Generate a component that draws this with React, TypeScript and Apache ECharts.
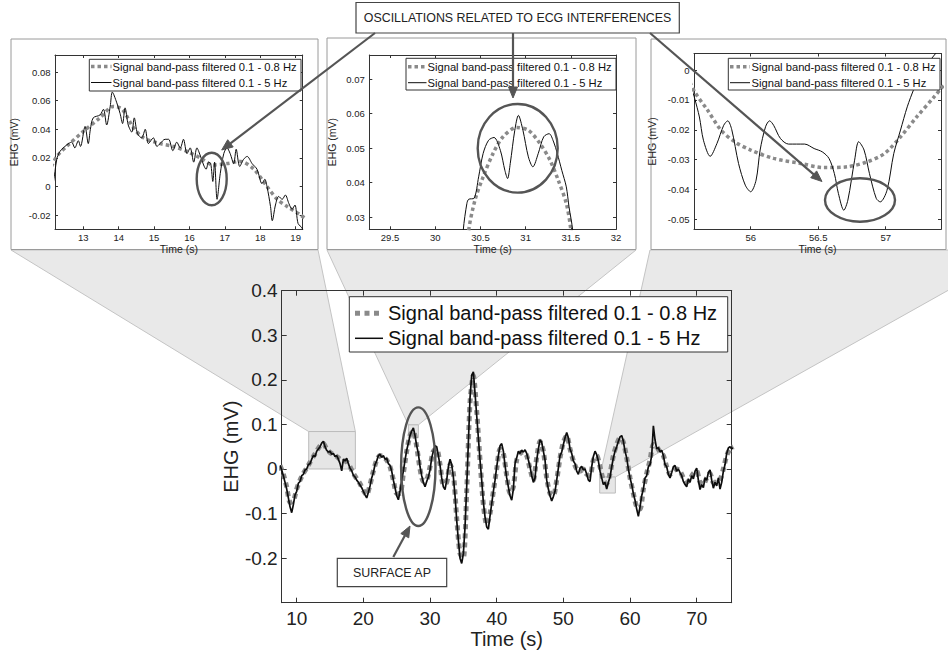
import { useEffect, useRef } from 'react';
import * as echarts from 'echarts';

const FONT = '"Liberation Sans", Arial, Helvetica, sans-serif';

// ---------- main chart (sampled signal) ----------
const MAIN_T0 = 7.5;
const SLOW_STEP = 0.5; // 0.1 - 0.8 Hz trace sampling (s)
const FAST_STEP = 0.25; // 0.1 - 5 Hz trace sampling (s)

// Signal band-pass filtered 0.1 - 0.8 Hz (from t = 7.5 s, every 0.5 s)
const mainSlow = [
  0.008, // 7.5
  -0.012, -0.04, // 8
  -0.075, -0.072, // 9
  -0.045, -0.025, // 10
  -0.01, 0.002, // 11
  0.015, 0.028, // 12
  0.04, 0.052, // 13
  0.057, 0.045, // 14
  0.037, 0.032, // 15
  0.028, 0.022, // 16
  0.019, 0.016, // 17
  0.005, -0.01, // 18
  -0.022, -0.033, // 19
  -0.048, -0.058, // 20
  -0.035, -0.005, // 21
  0.02, 0.03, // 22
  0.027, 0.02, // 23
  0.005, -0.025, // 24
  -0.055, -0.055, // 25
  -0.01, 0.04, // 26
  0.075, 0.085, // 27
  0.05, 0.0, // 28
  -0.028, -0.025, // 29
  0.005, 0.04, // 30
  0.045, 0.01, // 31
  -0.035, -0.03, // 32
  0.01, -0.01, // 33
  -0.11, -0.19, // 34
  -0.2, -0.05, // 35
  0.15, 0.21, // 36
  0.13, 0.02, // 37
  -0.08, -0.125, // 38
  -0.1, -0.05, // 39
  0.0, 0.045, // 40
  0.035, -0.015, // 41
  -0.055, -0.04, // 42
  0.02, 0.035, // 43
  0.038, 0.03, // 44
  0.0, -0.025, // 45
  0.025, 0.062, // 46
  0.04, -0.02, // 47
  -0.055, -0.06, // 48
  -0.025, 0.025, // 49
  0.06, 0.075, // 50
  0.045, 0.018, // 51
  0.0, -0.005, // 52
  0.0, -0.012, // 53
  -0.015, 0.02, // 54
  0.03, 0.005, // 55
  -0.025, -0.033, // 56
  -0.01, 0.03, // 57
  0.055, 0.07, // 58
  0.06, 0.025, // 59
  -0.02, -0.055, // 60
  -0.085, -0.09, // 61
  -0.045, -0.01, // 62
  0.02, 0.055, // 63
  0.05, 0.038, // 64
  0.03, 0.005, // 65
  -0.012, -0.005, // 66
  0.0, -0.005, // 67
  -0.02, -0.03, // 68
  -0.022, -0.01, // 69
  -0.005, -0.03, // 70
  -0.035, -0.02, // 71
  -0.01, -0.03, // 72
  -0.03, -0.025, // 73
  0.0, 0.03, // 74
  0.045, 0.05, // 75
];

// Signal band-pass filtered 0.1 - 5 Hz (from t = 7.5 s, every 0.25 s)
const mainFast = [
  0.008, -0.002, // 7.5
  -0.015, -0.03, -0.045, -0.065, // 8
  -0.085, -0.098, -0.08, -0.058, // 9
  -0.05, -0.032, -0.028, -0.015, // 10
  -0.012, -0.002, 0.0, 0.01, // 11
  0.012, 0.022, 0.03, 0.028, // 12
  0.04, 0.045, 0.05, 0.058, // 13
  0.062, 0.05, 0.042, 0.038, // 14
  0.04, 0.033, 0.035, 0.028, // 15
  0.03, 0.022, 0.012, -0.004, // 16
  0.022, 0.018, 0.024, 0.012, // 17
  0.002, -0.004, -0.014, -0.018, // 18
  -0.025, -0.03, -0.036, -0.042, // 19
  -0.05, -0.058, -0.065, -0.052, // 20
  -0.038, -0.02, -0.008, 0.01, // 21
  0.018, 0.03, 0.033, 0.026, // 22
  0.03, 0.022, 0.024, 0.012, // 23
  0.008, -0.005, -0.025, -0.042, // 24
  -0.06, -0.069, -0.05, -0.025, // 25
  -0.005, 0.02, 0.042, 0.058, // 26
  0.075, 0.085, 0.092, 0.075, // 27
  0.052, 0.035, 0.005, -0.015, // 28
  -0.03, -0.04, -0.028, -0.018, // 29
  -0.002, 0.025, 0.04, 0.052, // 30
  0.05, 0.03, 0.008, -0.02, // 31
  -0.04, -0.046, -0.025, 0.005, // 32
  0.022, 0.01, -0.018, -0.06, // 33
  -0.115, -0.16, -0.2, -0.212, // 34
  -0.19, -0.13, -0.04, 0.06, // 35
  0.16, 0.21, 0.218, 0.17, // 36
  0.12, 0.07, 0.02, -0.025, // 37
  -0.075, -0.108, -0.13, -0.135, // 38
  -0.105, -0.078, -0.05, -0.025, // 39
  0.005, 0.03, 0.052, 0.057, // 40
  0.04, 0.008, -0.02, -0.04, // 41
  -0.06, -0.07, -0.045, 0.012, // 42
  0.025, 0.04, 0.035, 0.042, // 43
  0.038, 0.043, 0.035, 0.02, // 44
  0.005, -0.015, -0.03, -0.02, // 45
  0.02, 0.045, 0.065, 0.06, // 46
  0.04, 0.02, -0.025, -0.045, // 47
  -0.06, -0.072, -0.062, -0.05, // 48
  -0.025, 0.002, 0.03, 0.038, // 49
  0.055, 0.07, 0.082, 0.07, // 50
  0.045, 0.035, 0.018, 0.012, // 51
  -0.005, -0.012, 0.002, 0.006, // 52
  -0.002, 0.0, -0.012, -0.025, // 53
  -0.028, 0.005, 0.028, 0.04, // 54
  0.032, 0.018, -0.005, -0.02, // 55
  -0.035, -0.03, -0.045, -0.03, // 56
  -0.018, 0.005, 0.025, 0.04, // 57
  0.05, 0.062, 0.072, 0.075, // 58
  0.062, 0.04, 0.025, 0.0, // 59
  -0.02, -0.035, -0.055, -0.07, // 60
  -0.09, -0.106, -0.085, -0.06, // 61
  -0.045, -0.02, -0.015, 0.005, // 62
  0.01, 0.03, 0.097, 0.065, // 63
  0.045, 0.048, 0.038, 0.042, // 64
  0.03, 0.01, 0.005, -0.012, // 65
  -0.02, -0.008, 0.005, 0.008, // 66
  -0.005, 0.0, -0.008, -0.015, // 67
  -0.028, -0.035, -0.04, -0.022, // 68
  -0.03, -0.015, -0.022, -0.005, // 69
  0.002, -0.025, -0.046, -0.035, // 70
  -0.042, -0.02, -0.025, -0.008, // 71
  -0.002, -0.025, -0.043, -0.03, // 72
  -0.038, -0.02, -0.045, -0.03, // 73
  -0.005, 0.01, 0.035, 0.047, // 74
  0.05, 0.045, 0.048, // 75
];

const mainXTicks = [10, 20, 30, 40, 50, 60, 70];
const mainYTicks = [-0.2, -0.1, 0, 0.1, 0.2, 0.3, 0.4];

// zoomed regions marked on the main chart: [t0, t1, v0, v1]
const zoomRegions = [
  [11.8, 18.8, 0.0, 0.084],
  [26.75, 28.25, 0.07, 0.099],
  [55.45, 57.8, -0.054, -0.018],
];

// ---------- inset 1 ----------
const inset1Slow: number[][] = [
  [12.1, 0.014], [12.25, 0.021], [12.53, 0.028], [13.0, 0.0385], [13.47, 0.048], [13.85, 0.056],
  [14.1, 0.054], [14.42, 0.041], [14.7, 0.034], [15.17, 0.03], [15.55, 0.028], [15.93, 0.0245],
  [16.3, 0.02], [16.68, 0.015], [17.06, 0.016], [17.44, 0.0175], [17.82, 0.012], [18.19, 0.0],
  [18.48, -0.009], [18.76, -0.014], [19.14, -0.02], [19.3, -0.023],
];
const inset1Fast: number[][] = [
  [12.15, 0.002], [12.2, 0.0105], [12.25, 0.019], [12.34, 0.0245], [12.53, 0.029], [12.67, 0.031],
  [12.76, 0.027], [12.86, 0.032], [12.92, 0.028], [13.05, 0.042], [13.14, 0.03], [13.2, 0.04],
  [13.28, 0.048], [13.47, 0.05], [13.57, 0.054], [13.66, 0.043], [13.76, 0.056], [13.82, 0.066],
  [13.94, 0.059], [14.04, 0.051], [14.11, 0.044], [14.18, 0.055], [14.27, 0.043], [14.37, 0.038],
  [14.44, 0.048], [14.53, 0.037], [14.65, 0.034], [14.75, 0.04], [14.84, 0.03], [14.98, 0.034],
  [15.08, 0.028], [15.17, 0.03], [15.31, 0.033], [15.41, 0.033], [15.53, 0.025], [15.64, 0.031],
  [15.74, 0.027], [15.83, 0.033], [15.93, 0.023], [16.02, 0.027], [16.12, 0.017], [16.21, 0.027],
  [16.3, 0.022], [16.4, 0.015], [16.47, 0.012], [16.54, 0.017], [16.6, 0.016], [16.66, 0.0035],
  [16.71, 0.017], [16.78, -0.009], [16.87, 0.009], [16.97, 0.023], [17.06, 0.027], [17.15, 0.023],
  [17.25, 0.016], [17.32, 0.026], [17.42, 0.014], [17.53, 0.019], [17.63, 0.021], [17.77, 0.016],
  [17.91, 0.012], [18.05, 0.002], [18.13, 0.005], [18.19, 0.0], [18.29, -0.014], [18.34, -0.024],
  [18.43, -0.013], [18.52, -0.007], [18.62, -0.009], [18.71, -0.006], [18.81, -0.012], [18.9, -0.016],
  [18.98, -0.013], [19.07, -0.026], [19.18, -0.029], [19.25, -0.035],
];
const inset1XTicks = [13, 14, 15, 16, 17, 18, 19];
const inset1YTicks = [-0.02, 0, 0.02, 0.04, 0.06, 0.08];

// ---------- inset 2 ----------
const inset2Slow: number[][] = [
  [30.33, 0.015], [30.37, 0.0263], [30.44, 0.035], [30.53, 0.0417], [30.64, 0.0485], [30.75, 0.0533],
  [30.9, 0.056], [31.03, 0.0552], [31.16, 0.0513], [31.27, 0.0465], [31.36, 0.0408], [31.45, 0.034],
  [31.5, 0.0263], [31.53, 0.015],
];
const inset2Fast: number[][] = [
  [30.29, 0.015], [30.31, 0.0263], [30.35, 0.034], [30.37, 0.0352], [30.43, 0.0355], [30.48, 0.0417],
  [30.53, 0.0485], [30.59, 0.0523], [30.65, 0.0531], [30.72, 0.0494], [30.77, 0.0436], [30.8, 0.0412],
  [30.83, 0.0456], [30.88, 0.0552], [30.92, 0.0595], [30.97, 0.0552], [31.03, 0.0475], [31.08, 0.0446],
  [31.14, 0.0485], [31.2, 0.0533], [31.26, 0.0542], [31.31, 0.0518], [31.35, 0.0485], [31.4, 0.0436],
  [31.45, 0.0388], [31.48, 0.033], [31.52, 0.0263], [31.54, 0.015],
];
const inset2XTicks = [29.5, 30, 30.5, 31, 31.5, 32];
const inset2YTicks = [0.03, 0.04, 0.05, 0.06, 0.07];

// ---------- inset 3 ----------
const inset3Slow: number[][] = [
  [55.55, -0.004], [55.585, -0.0073], [55.68, -0.0134], [55.78, -0.0201], [55.88, -0.024], [56.0, -0.0268],
  [56.17, -0.0296], [56.37, -0.0313], [56.54, -0.0327], [56.72, -0.0324], [56.86, -0.0308], [56.99, -0.028],
  [57.11, -0.0224], [57.23, -0.0157], [57.36, -0.0089], [57.45, -0.004],
];
const inset3Fast: number[][] = [
  [55.55, -0.004], [55.585, -0.0095], [55.62, -0.0157], [55.65, -0.0235], [55.7, -0.0289], [55.75, -0.0246],
  [55.8, -0.0185], [55.83, -0.017], [55.86, -0.02], [55.91, -0.0313], [55.96, -0.0386], [56.0, -0.0408],
  [56.04, -0.0369], [56.07, -0.0268], [56.11, -0.019], [56.14, -0.017], [56.17, -0.0185], [56.22, -0.0229],
  [56.28, -0.0248], [56.4, -0.0248], [56.47, -0.0263], [56.53, -0.0274], [56.58, -0.0296], [56.62, -0.0347],
  [56.65, -0.0414], [56.69, -0.047], [56.72, -0.0436], [56.77, -0.0302], [56.8, -0.024], [56.84, -0.0268],
  [56.88, -0.0347], [56.93, -0.043], [56.96, -0.0442], [57.01, -0.0403], [57.06, -0.028], [57.11, -0.0201],
  [57.16, -0.0123], [57.21, -0.0062], [57.26, -0.0011], [57.31, 0.0022], [57.37, 0.0056], [57.42, 0.009],
];
const inset3XTicks = [56, 56.5, 57];
const inset3YTicks = [-0.05, -0.04, -0.03, -0.02, -0.01, 0];

const LEGEND_SLOW = 'Signal band-pass filtered 0.1 - 0.8 Hz';
const LEGEND_FAST = 'Signal band-pass filtered 0.1 - 5 Hz';

const GRAY = '#8a8a8a';
const BLACK = '#0d0d0d';
const AXIS = '#333';
const TXT = '#222';

const fmt = (v: number) => String(parseFloat(Number(v).toFixed(4)));

type AxCfg = {
  g: number; xMin: number; xMax: number; xTicks: number[]; yMin: number; yMax: number; yTicks: number[];
  tickFont: number; nameFont: number; tickLen: number; xMargin: number; yMargin: number; xGap: number; yGap: number;
};

function axesFor(c: AxCfg) {
  const line = { show: true, onZero: false, lineStyle: { color: AXIS, width: 1 } };
  const lbl = (vals: number[], margin: number) => ({
    show: true, customValues: vals, formatter: (v: number) => fmt(v), color: TXT,
    fontSize: c.tickFont, fontFamily: FONT, margin, hideOverlap: false,
  });
  const tick = (vals: number[]) => ({ show: true, inside: true, length: c.tickLen, customValues: vals, lineStyle: { color: AXIS, width: 1 } });
  const xs = [
    {
      type: 'value', gridIndex: c.g, position: 'bottom', min: c.xMin, max: c.xMax,
      axisLine: line, axisTick: tick(c.xTicks), axisLabel: lbl(c.xTicks, c.xMargin), splitLine: { show: false },
      name: 'Time (s)', nameLocation: 'middle', nameGap: c.xGap,
      nameTextStyle: { fontSize: c.nameFont, fontFamily: FONT, color: TXT },
    },
    {
      type: 'value', gridIndex: c.g, position: 'top', min: c.xMin, max: c.xMax,
      axisLine: line, axisTick: tick(c.xTicks), axisLabel: { show: false }, splitLine: { show: false },
    },
  ];
  const ys = [
    {
      type: 'value', gridIndex: c.g, position: 'left', min: c.yMin, max: c.yMax,
      axisLine: line, axisTick: tick(c.yTicks), axisLabel: lbl(c.yTicks, c.yMargin), splitLine: { show: false },
      name: 'EHG (mV)', nameLocation: 'middle', nameGap: c.yGap, nameRotate: 90,
      nameTextStyle: { fontSize: c.nameFont, fontFamily: FONT, color: TXT },
    },
    {
      type: 'value', gridIndex: c.g, position: 'right', min: c.yMin, max: c.yMax,
      axisLine: line, axisTick: tick(c.yTicks), axisLabel: { show: false }, splitLine: { show: false },
    },
  ];
  return { xs, ys };
}

function lineSeries(g: number, data: number[][], slow: boolean, big: boolean, smooth: number | boolean) {
  return {
    type: 'line', xAxisIndex: 2 * g, yAxisIndex: 2 * g, data, showSymbol: false, symbol: 'none',
    smooth, clip: true, z: slow ? 2 : 3, silent: true,
    lineStyle: slow
      ? { color: GRAY, width: big ? 5 : 3.5, type: big ? [5, 4] : [3.5, 3], cap: 'butt' }
      : { color: BLACK, width: big ? 1.7 : 1 },
  };
}

function buildOption() {
  const cfgs: AxCfg[] = [
    { g: 0, xMin: 12.2, xMax: 19.2, xTicks: inset1XTicks, yMin: -0.03, yMax: 0.092, yTicks: inset1YTicks,
      tickFont: 9.5, nameFont: 10.5, tickLen: 3, xMargin: 3, yMargin: 4.5, xGap: 12, yGap: 36 },
    { g: 1, xMin: 29.27, xMax: 32, xTicks: inset2XTicks, yMin: 0.0265, yMax: 0.077, yTicks: inset2YTicks,
      tickFont: 9.5, nameFont: 10.5, tickLen: 3, xMargin: 3, yMargin: 4.5, xGap: 12, yGap: 32 },
    { g: 2, xMin: 55.58, xMax: 57.41, xTicks: inset3XTicks, yMin: -0.0534, yMax: 0.0056, yTicks: inset3YTicks,
      tickFont: 9.5, nameFont: 10.5, tickLen: 3, xMargin: 3, yMargin: 4.5, xGap: 12, yGap: 37 },
    { g: 3, xMin: 7.75, xMax: 75.25, xTicks: mainXTicks, yMin: -0.3, yMax: 0.4, yTicks: mainYTicks,
      tickFont: 19, nameFont: 20, tickLen: 5, xMargin: 6, yMargin: 4, xGap: 26, yGap: 33 },
  ];
  const xAxis: any[] = [];
  const yAxis: any[] = [];
  cfgs.forEach((c) => {
    const a = axesFor(c);
    xAxis.push(...a.xs);
    yAxis.push(...a.ys);
  });
  const mainSlowData = mainSlow.map((v, i) => [MAIN_T0 + i * SLOW_STEP, v]);
  const mainFastData = mainFast.map((v, i) => [MAIN_T0 + i * FAST_STEP, v]);
  return {
    animation: false,
    backgroundColor: '#ffffff',
    textStyle: { fontFamily: FONT },
    grid: [
      { left: 55, top: 55, width: 247.7, height: 174.3 },
      { left: 369.3, top: 55, width: 246.7, height: 174.3 },
      { left: 694, top: 53.5, width: 247, height: 175.8 },
      { left: 281.7, top: 290.7, width: 450, height: 312 },
    ],
    xAxis,
    yAxis,
    series: [
      lineSeries(0, inset1Slow, true, false, 0.3),
      lineSeries(0, inset1Fast, false, false, 0.3),
      lineSeries(1, inset2Slow, true, false, 0.3),
      lineSeries(1, inset2Fast, false, false, 0.3),
      lineSeries(2, inset3Slow, true, false, 0.3),
      lineSeries(2, inset3Fast, false, false, 0.3),
      {
        type: 'line', xAxisIndex: 6, yAxisIndex: 6, data: [], z: 1, silent: true,
        markArea: {
          silent: true,
          itemStyle: { color: '#e6e6e6', borderColor: '#bcbcbc', borderWidth: 1 },
          data: zoomRegions.map((r) => [{ coord: [r[0], r[3]] }, { coord: [r[1], r[2]] }]),
        },
      },
      lineSeries(3, mainSlowData, true, true, 0.25),
      lineSeries(3, mainFastData, false, true, false),
    ],
  };
}

function arrow(x1: number, y1: number, x2: number, y2: number, z: number) {
  const dx = x2 - x1, dy = y2 - y1;
  const len = Math.sqrt(dx * dx + dy * dy);
  const ux = dx / len, uy = dy / len;
  const hl = 11, hw = 4.5;
  const bx = x2 - ux * hl, by = y2 - uy * hl;
  const nx = -uy, ny = ux;
  return [
    { type: 'line', z, silent: true, shape: { x1, y1, x2: bx, y2: by }, style: { stroke: '#555', lineWidth: 2.2 } },
    {
      type: 'polygon', z, silent: true,
      shape: { points: [[x2, y2], [bx + nx * hw, by + ny * hw], [bx - nx * hw, by - ny * hw]] },
      style: { fill: '#555', stroke: '#555', lineWidth: 1 },
    },
  ];
}

function legendBox(x: number, y: number, w: number, h: number, r1: number, r2: number, s0: number, s1: number,
  tx: number, font: number, big: boolean) {
  const z = 20;
  return [
    { type: 'rect', z, silent: true, shape: { x, y, width: w, height: h }, style: { fill: '#fff', stroke: '#333', lineWidth: 1 } },
    {
      type: 'line', z, silent: true, shape: { x1: s0, y1: r1, x2: s1, y2: r1 },
      style: { stroke: GRAY, lineWidth: big ? 5 : 3.5, lineDash: big ? [5, 4.5] : [3.5, 3], lineCap: 'butt' },
    },
    { type: 'line', z, silent: true, shape: { x1: s0, y1: r2, x2: s1, y2: r2 }, style: { stroke: BLACK, lineWidth: big ? 1.5 : 1 } },
    { type: 'text', z, silent: true, style: { text: LEGEND_SLOW, x: tx, y: r1, fill: '#111', fontSize: font, fontFamily: FONT, align: 'left', verticalAlign: 'middle' } },
    { type: 'text', z, silent: true, style: { text: LEGEND_FAST, x: tx, y: r2, fill: '#111', fontSize: font, fontFamily: FONT, align: 'left', verticalAlign: 'middle' } },
  ];
}

function ellipse(cx: number, cy: number, rx: number, ry: number) {
  return { type: 'ellipse', z: 30, silent: true, shape: { cx, cy, rx, ry }, style: { fill: 'none', stroke: '#555', lineWidth: 2.4 } };
}

function buildGraphic(chart: any) {
  const px = (t: number, v: number) => chart.convertToPixel({ gridIndex: 3 }, [t, v]) as number[];
  const frames = [
    { x0: 11, x1: 318, y0: 39, y1: 249.5 },
    { x0: 327, x1: 636, y0: 38, y1: 249.5 },
    { x0: 651, x1: 946, y0: 39, y1: 249.5 },
  ];
  const wedgeTops = [[11, 318], [327, 636], [650, 1020]];
  const els: any[] = [];
  zoomRegions.forEach((r, i) => {
    const a = px(r[0], r[3]);
    const b = px(r[1], r[3]);
    els.push({
      type: 'polygon', z: -2, silent: true,
      shape: { points: [[wedgeTops[i][0], 250], [wedgeTops[i][1], 250], b, a] },
      style: { fill: '#e9e9e9', stroke: '#c4c4c4', lineWidth: 1 },
    });
  });
  frames.forEach((f) => {
    els.push({
      type: 'rect', z: -1, silent: true,
      shape: { x: f.x0, y: f.y0, width: f.x1 - f.x0, height: f.y1 - f.y0 },
      style: { fill: '#fff', stroke: '#9a9a9a', lineWidth: 1 },
    });
  });
  els.push(...legendBox(349.3, 296.7, 378.4, 55.3, 313.3, 338.3, 355, 383, 388, 20, true));
  els.push(...legendBox(89.3, 59.3, 211.7, 31.7, 66.5, 82.5, 91, 111.5, 112.5, 11.2, false));
  els.push(...legendBox(406, 58.3, 210, 31.7, 66.7, 82.7, 408, 426.5, 427.5, 11.2, false));
  els.push(...legendBox(728.3, 58.3, 211.7, 31.7, 66.7, 82.7, 730, 750, 751.5, 11.2, false));

  // annotation boxes
  els.push({ type: 'rect', z: 30, silent: true, shape: { x: 356, y: 2.5, width: 323.3, height: 30.5 }, style: { fill: '#fff', stroke: '#444', lineWidth: 1.2 } });
  els.push({ type: 'text', z: 31, silent: true, style: { text: 'OSCILLATIONS RELATED TO ECG INTERFERENCES', x: 517.6, y: 17.5, fill: '#222', fontSize: 12.4, fontFamily: FONT, align: 'center', verticalAlign: 'middle' } });
  els.push({ type: 'rect', z: 30, silent: true, shape: { x: 337.3, y: 558.3, width: 109.4, height: 28.4 }, style: { fill: '#fff', stroke: '#444', lineWidth: 1.2 } });
  els.push({ type: 'text', z: 31, silent: true, style: { text: 'SURFACE AP', x: 392, y: 572.5, fill: '#222', fontSize: 12.4, fontFamily: FONT, align: 'center', verticalAlign: 'middle' } });

  els.push(...arrow(375, 33, 221.7, 150, 30));
  els.push(...arrow(513, 33, 513, 98, 30));
  els.push(...arrow(650, 33, 822, 181.5, 30));
  els.push(...arrow(393.3, 557, 410, 526, 30));

  els.push(ellipse(211.7, 179, 15, 26.3));
  els.push(ellipse(517.7, 148.3, 40, 44.3));
  els.push(ellipse(860, 200, 35, 21.7));
  els.push(ellipse(418.3, 466.7, 17.2, 59.3));
  return { elements: els };
}

export default function App() {
  const ref = useRef<HTMLDivElement>(null);
  useEffect(() => {
    const el = ref.current;
    if (!el) return;
    const chart = echarts.init(el, null, { renderer: 'svg', width: 948, height: 654 });
    chart.setOption(buildOption() as any);
    chart.setOption({ graphic: buildGraphic(chart) } as any);
    return () => chart.dispose();
  }, []);
  return (
    <div
      ref={ref}
      style={{ position: 'fixed', left: 0, top: 0, width: 948, height: 654, background: '#fff' }}
    />
  );
}
